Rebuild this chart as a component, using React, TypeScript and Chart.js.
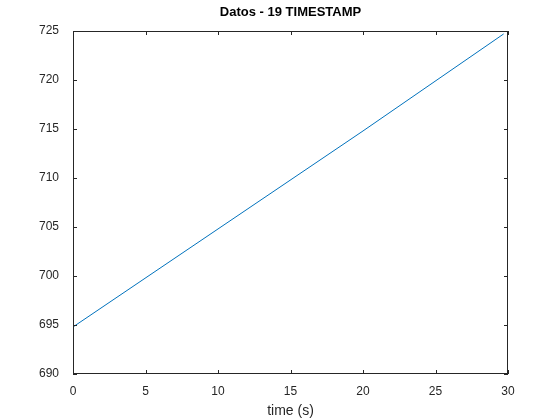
import React, { useEffect, useRef } from 'react';
import Chart from 'chart.js/auto';

// values
const timeValues = [0, 10, 20, 29.7];
const timestampValues = [694.8, 704.8, 714.8, 724.7];
const chartTitle = 'Datos - 19 TIMESTAMP';
const xLabel = 'time (s)';

const FONT = 'Liberation Sans, Arial, sans-serif';

// MATLAB style box with inward ticks and the title
const boxPlugin = {
  id: 'matlabBox',
  afterDraw(chart: any) {
    const { ctx, chartArea: a, scales } = chart;
    ctx.save();
    ctx.strokeStyle = '#262626';
    ctx.lineWidth = 1;
    ctx.strokeRect(a.left + 0.5, a.top + 0.5, a.right - a.left - 1, a.bottom - a.top - 1);
    ctx.beginPath();
    scales.x.ticks.forEach((t: any) => {
      const px = Math.round(scales.x.getPixelForValue(t.value)) + 0.5;
      ctx.moveTo(px, a.bottom); ctx.lineTo(px, a.bottom - 4);
      ctx.moveTo(px, a.top); ctx.lineTo(px, a.top + 4);
    });
    scales.y.ticks.forEach((t: any) => {
      const py = Math.round(scales.y.getPixelForValue(t.value)) + 0.5;
      ctx.moveTo(a.left, py); ctx.lineTo(a.left + 4, py);
      ctx.moveTo(a.right, py); ctx.lineTo(a.right - 4, py);
    });
    ctx.stroke();
    ctx.fillStyle = '#000';
    ctx.font = `bold 13px ${FONT}`;
    ctx.textAlign = 'center';
    ctx.textBaseline = 'middle';
    ctx.fillText(chartTitle, (a.left + a.right) / 2, 12);
    ctx.restore();
  },
};

const App: React.FC = () => {
  const canvasRef = useRef<HTMLCanvasElement>(null);

  useEffect(() => {
    if (!canvasRef.current) return;
    const chart = new Chart(canvasRef.current, {
      type: 'scatter',
      data: {
        datasets: [
          {
            data: timeValues.map((x, i) => ({ x, y: timestampValues[i] })),
            showLine: true,
            borderColor: '#0072bd',
            borderWidth: 1,
            pointRadius: 0,
          },
        ],
      },
      options: {
        animation: false,
        responsive: false,
        layout: { padding: { top: 31, right: 52, left: 0, bottom: 0 } },
        plugins: { legend: { display: false }, tooltip: { enabled: false } },
        scales: {
          x: {
            type: 'linear',
            min: 0,
            max: 30,
            ticks: { stepSize: 5, color: '#262626', font: { family: FONT, size: 12 }, padding: 2 },
            grid: { display: false },
            border: { display: false },
            title: { display: true, text: xLabel, color: '#262626', font: { family: FONT, size: 14 }, padding: 0 },
            afterFit: (s: any) => { s.height = 46; },
          },
          y: {
            min: 690,
            max: 725,
            ticks: { stepSize: 5, color: '#262626', font: { family: FONT, size: 12 }, padding: 6 },
            grid: { display: false },
            border: { display: false },
            afterFit: (s: any) => { s.width = 73; },
          },
        },
      },
      plugins: [boxPlugin],
    });
    return () => chart.destroy();
  }, []);

  return (
    <div style={{ position: 'fixed', left: 0, top: 0, width: 560, height: 420, background: '#fff' }}>
      <canvas ref={canvasRef} width={560} height={420} />
    </div>
  );
};

export default App;
